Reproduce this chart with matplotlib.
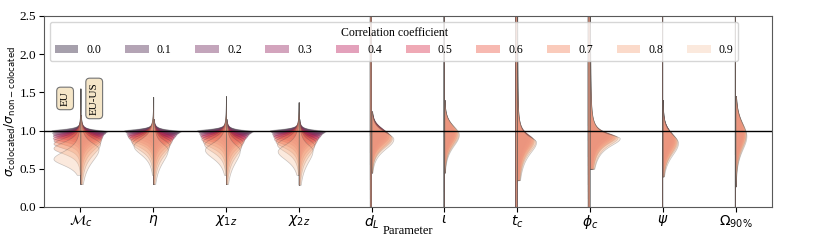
import numpy as np
import matplotlib
matplotlib.use("Agg")
import matplotlib.pyplot as plt
import matplotlib.patches as mpatches
import seaborn as sns

# ---------------- data ----------------
CORR = [0.0, 0.1, 0.2, 0.3, 0.4, 0.5, 0.6, 0.7, 0.8, 0.9]
PARAM_LABELS = [r'$\mathcal{M}_c$', r'$\eta$', r'$\chi_{1z}$', r'$\chi_{2z}$', r'$d_L$',
                r'$\iota$', r'$t_c$', r'$\phi_c$', r'$\psi$', r'$\Omega_{90\%}$']

# EU (left half) : mode, peak half-width, lower / upper spread for each correlation coefficient
EU_MODE = [
    [1.00, 0.99, 0.97, 0.95, 0.93, 0.90, 0.87, 0.83, 0.77, 0.63],
    [1.00, 0.99, 0.98, 0.96, 0.94, 0.92, 0.90, 0.87, 0.84, 0.80],
    [1.00, 0.99, 0.98, 0.96, 0.94, 0.92, 0.89, 0.86, 0.82, 0.75],
    [1.00, 0.99, 0.98, 0.96, 0.94, 0.92, 0.89, 0.86, 0.82, 0.73],
    [1.5] * 10, [1.5] * 10, [1.5] * 10, [1.5] * 10, [1.5] * 10, [1.5] * 10,
]
EU_WIDTH = [
    [0.40, 0.39, 0.39, 0.38, 0.38, 0.38, 0.37, 0.37, 0.37, 0.37],
    [0.40, 0.39, 0.38, 0.37, 0.36, 0.35, 0.33, 0.31, 0.29, 0.27],
    [0.40, 0.39, 0.38, 0.37, 0.36, 0.35, 0.34, 0.32, 0.30, 0.29],
    [0.40, 0.39, 0.38, 0.37, 0.36, 0.35, 0.34, 0.32, 0.30, 0.29],
    [0.018] * 10, [0.004] * 10, [0.020] * 10, [0.024] * 10, [0.004] * 10, [0.003] * 10,
]
EU_SLO = [
    [0.015, 0.020, 0.025, 0.030, 0.035, 0.040, 0.050, 0.060, 0.070, 0.080],
    [0.015, 0.020, 0.025, 0.035, 0.045, 0.055, 0.065, 0.080, 0.095, 0.110],
    [0.015, 0.020, 0.025, 0.035, 0.045, 0.055, 0.065, 0.080, 0.095, 0.110],
    [0.015, 0.020, 0.025, 0.035, 0.045, 0.055, 0.065, 0.080, 0.095, 0.110],
    [4.0] * 10, [4.0] * 10, [4.0] * 10, [4.0] * 10, [4.0] * 10, [4.0] * 10,
]
EU_SHI = [
    [0.020, 0.025, 0.030, 0.035, 0.040, 0.050, 0.060, 0.070, 0.080, 0.100],
    [0.020, 0.025, 0.030, 0.035, 0.040, 0.050, 0.060, 0.070, 0.080, 0.090],
    [0.020, 0.025, 0.030, 0.035, 0.040, 0.050, 0.060, 0.070, 0.080, 0.090],
    [0.020, 0.025, 0.030, 0.035, 0.040, 0.050, 0.060, 0.070, 0.080, 0.090],
    [4.0] * 10, [4.0] * 10, [4.0] * 10, [4.0] * 10, [4.0] * 10, [4.0] * 10,
]
EU_YMIN = [0.42, 0.42, 0.42, 0.42, -1.0, -1.0, -1.0, -1.0, -1.0, -1.0]
EU_YMAX = [1.55, 1.44, 1.45, 1.37, 6.0, 6.0, 6.0, 6.0, 6.0, 6.0]

# EU-US (right half)
US_MODE = [
    [0.99, 0.98, 0.97, 0.96, 0.94, 0.92, 0.90, 0.87, 0.83, 0.76],
    [0.99, 0.98, 0.97, 0.95, 0.93, 0.91, 0.88, 0.85, 0.81, 0.75],
    [0.99, 0.98, 0.97, 0.95, 0.93, 0.91, 0.88, 0.85, 0.81, 0.74],
    [0.99, 0.98, 0.97, 0.95, 0.93, 0.91, 0.88, 0.85, 0.81, 0.74],
    [0.98, 0.97, 0.96, 0.95, 0.94, 0.93, 0.92, 0.91, 0.90, 0.89],
    [0.99, 0.99, 0.98, 0.98, 0.97, 0.97, 0.96, 0.96, 0.95, 0.95],
    [0.93, 0.92, 0.91, 0.90, 0.89, 0.89, 0.88, 0.87, 0.86, 0.85],
    [0.95, 0.95, 0.94, 0.94, 0.93, 0.93, 0.92, 0.92, 0.91, 0.90],
    [0.92, 0.91, 0.90, 0.89, 0.88, 0.87, 0.86, 0.86, 0.85, 0.84],
    [0.98, 0.98, 0.97, 0.97, 0.96, 0.96, 0.95, 0.95, 0.94, 0.93],
]
US_WIDTH = [
    [0.37, 0.35, 0.34, 0.32, 0.31, 0.30, 0.29, 0.28, 0.27, 0.25],
    [0.38, 0.36, 0.34, 0.32, 0.30, 0.28, 0.26, 0.24, 0.22, 0.20],
    [0.37, 0.35, 0.33, 0.31, 0.29, 0.27, 0.25, 0.23, 0.21, 0.19],
    [0.37, 0.35, 0.33, 0.31, 0.29, 0.27, 0.25, 0.23, 0.21, 0.19],
    [0.16, 0.18, 0.20, 0.21, 0.23, 0.24, 0.26, 0.27, 0.28, 0.30],
    [0.11, 0.12, 0.13, 0.14, 0.15, 0.16, 0.17, 0.18, 0.19, 0.20],
    [0.14, 0.15, 0.17, 0.18, 0.19, 0.21, 0.22, 0.23, 0.25, 0.26],
    [0.22, 0.24, 0.26, 0.28, 0.30, 0.32, 0.34, 0.36, 0.38, 0.41],
    [0.12, 0.13, 0.14, 0.15, 0.16, 0.17, 0.18, 0.19, 0.20, 0.21],
    [0.09, 0.10, 0.10, 0.11, 0.12, 0.12, 0.13, 0.14, 0.14, 0.15],
]
US_SLO = [
    [0.03, 0.04, 0.05, 0.06, 0.07, 0.08, 0.10, 0.12, 0.14, 0.16],
    [0.03, 0.04, 0.05, 0.06, 0.07, 0.08, 0.10, 0.12, 0.14, 0.16],
    [0.03, 0.04, 0.05, 0.06, 0.07, 0.08, 0.10, 0.12, 0.14, 0.16],
    [0.03, 0.04, 0.05, 0.06, 0.07, 0.08, 0.10, 0.12, 0.14, 0.16],
    [0.10, 0.10, 0.10, 0.11, 0.11, 0.11, 0.12, 0.12, 0.12, 0.13],
    [0.12, 0.12, 0.12, 0.13, 0.13, 0.13, 0.14, 0.14, 0.14, 0.15],
    [0.12, 0.12, 0.12, 0.13, 0.13, 0.13, 0.14, 0.14, 0.14, 0.15],
    [0.07, 0.07, 0.08, 0.08, 0.08, 0.09, 0.09, 0.09, 0.10, 0.10],
    [0.13, 0.13, 0.13, 0.14, 0.14, 0.14, 0.15, 0.15, 0.15, 0.16],
    [0.15, 0.15, 0.16, 0.16, 0.16, 0.17, 0.17, 0.17, 0.18, 0.18],
]
US_SHI = [
    [0.02, 0.025, 0.03, 0.035, 0.04, 0.045, 0.05, 0.06, 0.07, 0.08],
    [0.02, 0.025, 0.03, 0.035, 0.04, 0.045, 0.05, 0.06, 0.07, 0.08],
    [0.02, 0.025, 0.03, 0.035, 0.04, 0.045, 0.05, 0.06, 0.07, 0.08],
    [0.02, 0.025, 0.03, 0.035, 0.04, 0.045, 0.05, 0.06, 0.07, 0.08],
    [0.08, 0.08, 0.08, 0.08, 0.09, 0.09, 0.09, 0.09, 0.09, 0.09],
    [0.10, 0.10, 0.10, 0.10, 0.11, 0.11, 0.11, 0.11, 0.11, 0.11],
    [0.06, 0.06, 0.06, 0.06, 0.07, 0.07, 0.07, 0.07, 0.07, 0.07],
    [0.04, 0.04, 0.04, 0.04, 0.05, 0.05, 0.05, 0.05, 0.05, 0.05],
    [0.10, 0.10, 0.10, 0.10, 0.11, 0.11, 0.11, 0.11, 0.11, 0.11],
    [0.15, 0.15, 0.15, 0.15, 0.16, 0.16, 0.16, 0.16, 0.16, 0.16],
]
US_YMIN = [0.30, 0.30, 0.30, 0.29, 0.45, 0.45, 0.35, 0.50, 0.40, 0.27]
US_YMAX = [1.20, 1.15, 1.15, 1.15, 1.25, 1.40, 2.60, 2.60, 1.40, 1.45]
US_TAIL = [1.5, 1.5, 1.5, 1.5, 3.0, 3.0, 1.0, 0.8, 3.0, 3.0]   # tail heaviness

# ---------------- style ----------------
plt.rcParams['font.family'] = 'serif'
plt.rcParams['font.serif'] = ['Liberation Serif', 'DejaVu Serif']
plt.rcParams['mathtext.fontset'] = 'dejavusans'

colors = sns.color_palette("rocket", len(CORR))
ALPHA = 0.4


def half_width(y, m, W, slo, shi, k):
    s = np.where(y < m, slo, shi)
    z = (y - m) / s
    return W * (1.0 + z * z / (2.0 * k)) ** (-k)


fig = plt.figure(figsize=(8.3, 2.49), dpi=100)
ax = fig.add_axes([0.053, 0.169, 0.877, 0.767])

edge = (0.3, 0.3, 0.3, 0.3)
for j, c in enumerate(CORR):
    face = (*colors[j], ALPHA)
    for i in range(len(PARAM_LABELS)):
        # EU - left half
        y = np.linspace(EU_YMIN[i], EU_YMAX[i], 600)
        w = half_width(y, EU_MODE[i][j], EU_WIDTH[i][j], EU_SLO[i][j], EU_SHI[i][j], 2.0)
        ax.fill_betweenx(y, i - w, i, facecolor=face, edgecolor=edge, linewidth=0.5, zorder=2)
        # EU-US - right half
        y = np.linspace(US_YMIN[i], US_YMAX[i], 600)
        w = half_width(y, US_MODE[i][j], US_WIDTH[i][j], US_SLO[i][j], US_SHI[i][j], US_TAIL[i])
        ax.fill_betweenx(y, i, i + w, facecolor=face, edgecolor=edge, linewidth=0.5, zorder=2)

ax.axhline(1.0, color='black', linewidth=1.0, zorder=5)

ax.set_xlim(-0.5, len(PARAM_LABELS) - 0.5)
ax.set_ylim(0, 2.5)
ax.set_xticks(range(len(PARAM_LABELS)))
ax.set_xticklabels(PARAM_LABELS, fontsize=10)
ax.set_yticks([0.0, 0.5, 1.0, 1.5, 2.0, 2.5])
ax.tick_params(axis='y', labelsize=9.5, pad=2)
ax.tick_params(axis='x', pad=1)
ax.set_xlabel('Parameter', fontsize=9)
ax.xaxis.set_label_coords(0.5, -0.095)
ax.set_ylabel(r'$\sigma_{\rm colocated}/\sigma_{\rm non-colocated}$', fontsize=8.8, labelpad=1)
for sp in ax.spines.values():
    sp.set_color('0.35')

box = dict(boxstyle='round,pad=0.35', facecolor='#f5e6c8', edgecolor='0.45', linewidth=0.8)
ax.text(-0.21, 1.42, 'EU', rotation=90, ha='center', va='center', fontsize=8, bbox=box, zorder=6)
ax.text(0.19, 1.42, 'EU-US', rotation=90, ha='center', va='center', fontsize=8, bbox=box, zorder=6)

handles = [mpatches.Patch(facecolor=colors[j], alpha=ALPHA, edgecolor='none') for j in range(len(CORR))]
leg = ax.legend(handles, [f'{c:.1f}' for c in CORR], title='Correlation coefficient', ncol=10,
                loc='upper left', fontsize=8.5, title_fontsize=8.5, handlelength=2.0,
                handletextpad=0.7, columnspacing=2.0)

fig.savefig('out.png', dpi=100)
